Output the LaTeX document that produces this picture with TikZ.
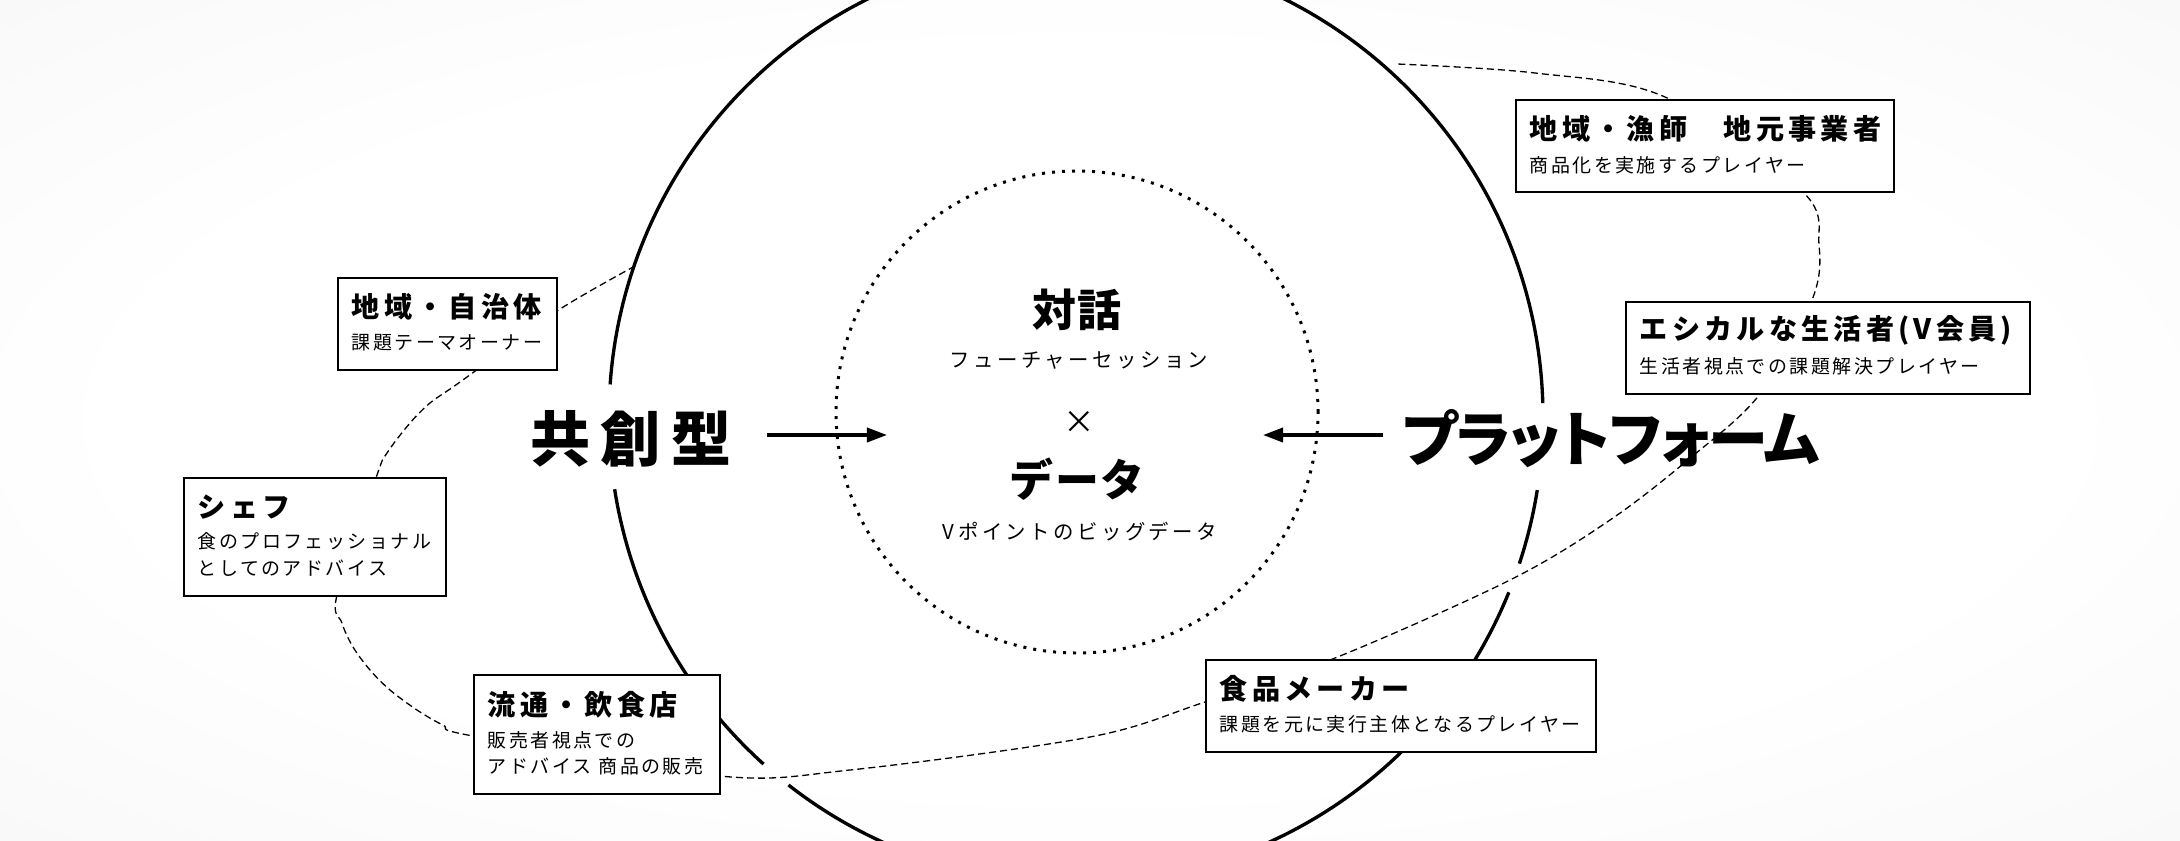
\documentclass[tikz,border=0pt]{standalone}
\usepackage{fontspec}
\setmainfont{Noto Sans CJK JP}
\usetikzlibrary{arrows.meta}
\pgfdeclareradialshading{paper}{\pgfpoint{0bp}{0bp}}{color(0bp)=(white); color(22bp)=(white); color(50bp)=(black!5); color(72bp)=(black!8)}
\tikzset{
  ring/.style={line width=0.95pt},
  orbit/.style={line width=0.37pt, dash pattern=on 2pt off 1.15pt},
  dotring/.style={line width=0.85pt, dash pattern=on 0.85pt off 2pt},
  card/.style={draw, line width=0.55pt, fill=white, anchor=north west, inner sep=0pt},
  cardtitle/.style={anchor=west, inner sep=0pt, font=\fontsize{8pt}{9pt}\selectfont\bfseries\addfontfeatures{LetterSpace=15}},
  cardnote/.style={anchor=west, inner sep=0pt, font=\fontsize{5.4pt}{6.5pt}\selectfont\addfontfeatures{LetterSpace=13}},
  bigword/.style={inner sep=0pt, font=\fontsize{17.1pt}{20pt}\selectfont\bfseries\addfontfeatures{LetterSpace=16.7}},
  bigkana/.style={inner sep=0pt, font=\fontsize{17.1pt}{20pt}\selectfont\bfseries\addfontfeatures{RawFeature=+palt,LetterSpace=-2}},
  coreword/.style={inner sep=0pt, font=\fontsize{12.5pt}{15pt}\selectfont\bfseries\addfontfeatures{LetterSpace=3}},
  corenote/.style={inner sep=0pt, font=\fontsize{5.8pt}{7pt}\selectfont\addfontfeatures{LetterSpace=17}},
  flow/.style={line width=1pt, -{Triangle[length=5.7pt,width=4pt]}}
}

\begin{document}
\begin{tikzpicture}
	%%%%% START %%%%%
	\useasboundingbox (0,0) rectangle (21.8,-8.4);
	\clip (0,0) rectangle (21.8,-8.4);
	\shade[shading=paper] (0,0) rectangle (21.8,-8.4);

	% dashed orbit through the players
	\draw[orbit] plot[smooth, tension=0.55] coordinates {
		(6.35,-2.66) (5.57,-3.11) (4.78,-3.69) (4.53,-3.87) (4.30,-4.03) (4.10,-4.23)
		(3.87,-4.53) (3.77,-4.75) (3.37,-5.95) (3.42,-6.23) (3.53,-6.47) (3.70,-6.70)
		(3.90,-6.90) (4.17,-7.10) (4.43,-7.25) (4.73,-7.36) (7.19,-7.76) (8.50,-7.70)
		(10.90,-7.37) (12.05,-7.02) (13.35,-6.58) (15.10,-5.80) (16.10,-5.20)
		(16.89,-4.59) (17.60,-3.94) (18.12,-3.00) (18.19,-2.45) (18.02,-1.91)
		(16.65,-0.97) (15.35,-0.73) (13.97,-0.64)};

	% outer ring, open where the labels and the orbit cross it
	\draw[ring] (10.76,-4.17) ++(1.7:4.67) arc (1.7:176:4.67);
	\draw[ring] (10.76,-4.17) ++(188.9:4.67) arc (188.9:228:4.67);
	\draw[ring] (10.76,-4.17) ++(232:4.67) arc (232:337.95:4.67);
	\draw[ring] (10.76,-4.17) ++(341.7:4.67) arc (341.7:351:4.67);

	% inner dotted ring
	\draw[dotring] (10.77,-4.12) circle (2.41);

	% players
	\node[card, minimum width=2.19cm, minimum height=0.92cm] (jichitai) at (3.37,-2.77) {};
	\node[cardtitle] (jichitaiT) at ([shift={(0.14,-0.30)}]jichitai.north west) {地域・自治体};
	\node[cardnote] (jichitaiN) at ([shift={(0.14,-0.655)}]jichitai.north west) {課題テーマオーナー};

	\node[card, minimum width=2.62cm, minimum height=1.18cm] (chef) at (1.83,-4.77) {};
	\node[cardtitle] (chefT) at ([shift={(0.14,-0.30)}]chef.north west) {シェフ};
	\node[cardnote] (chefN) at ([shift={(0.14,-0.645)}]chef.north west) {食のプロフェッショナル};
	\node[cardnote] (chefM) at ([shift={(0.14,-0.915)}]chef.north west) {としてのアドバイス};

	\node[card, minimum width=2.46cm, minimum height=1.19cm] (ryutsu) at (4.73,-6.74) {};
	\node[cardtitle] (ryutsuT) at ([shift={(0.14,-0.31)}]ryutsu.north west) {流通・飲食店};
	\node[cardnote] (ryutsuN) at ([shift={(0.14,-0.66)}]ryutsu.north west) {販売者視点での};
	\node[cardnote] (ryutsuM) at ([shift={(0.14,-0.925)}]ryutsu.north west) {アドバイス 商品の販売};

	\node[card, minimum width=3.78cm, minimum height=0.92cm] (gyoshi) at (15.15,-0.99) {};
	\node[cardtitle] (gyoshiT) at ([shift={(0.14,-0.30)}]gyoshi.north west) {地域・漁師　地元事業者};
	\node[cardnote] (gyoshiN) at ([shift={(0.14,-0.665)}]gyoshi.north west) {商品化を実施するプレイヤー};

	\node[card, minimum width=4.04cm, minimum height=0.92cm] (ethical) at (16.25,-3.01) {};
	\node[cardtitle] (ethicalT) at ([shift={(0.14,-0.29)}]ethical.north west) {エシカルな生活者(V会員)};
	\node[cardnote] (ethicalN) at ([shift={(0.14,-0.655)}]ethical.north west) {生活者視点での課題解決プレイヤー};

	\node[card, minimum width=3.90cm, minimum height=0.92cm] (shokuhin) at (12.05,-6.59) {};
	\node[cardtitle] (shokuhinT) at ([shift={(0.14,-0.295)}]shokuhin.north west) {食品メーカー};
	\node[cardnote] (shokuhinN) at ([shift={(0.14,-0.65)}]shokuhin.north west) {課題を元に実行主体となるプレイヤー};

	% core
	\node[coreword] (taiwa) at (10.77,-3.10) {対話};
	\node[corenote] (taiwaN) at (10.79,-3.605) {フューチャーセッション};
	\node[corenote, font=\fontsize{9pt}{10pt}\selectfont] (times) at (10.79,-4.225) {×};
	\node[coreword] (data) at (10.77,-4.795) {データ};
	\node[corenote] (dataN) at (10.80,-5.32) {Vポイントのビッグデータ};

	% the two ways in
	\node[bigword] (kyoso) at (6.31,-4.385) {共創型};
	\node[bigkana] (platform) at (16.11,-4.39) {プラットフォーム};
	\coordinate (kyosoTail) at (7.67,-4.35);
	\coordinate (kyosoTip) at (8.87,-4.35);
	\coordinate (platformTail) at (13.83,-4.35);
	\coordinate (platformTip) at (12.63,-4.35);
	\draw[flow] (kyosoTail) -- (kyosoTip);
	\draw[flow] (platformTail) -- (platformTip);

	%%%%% END %%%%%
\end{tikzpicture}
\end{document}
